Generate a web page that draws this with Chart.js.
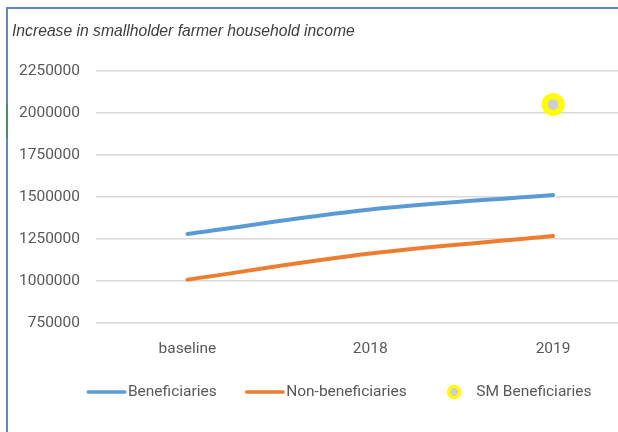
<!DOCTYPE html>
<html>
<head>
<meta charset="utf-8">
<script src="https://cdn.jsdelivr.net/npm/chart.js@4.4.1/dist/chart.umd.min.js"></script>
<style>
    html, body { margin: 0; padding: 0; overflow: hidden; background: #fff; }
    #frame-top { position: absolute; left: 6px; top: 7px; width: 640px; height: 2px; background: #5b88c8; }
    #frame-left { position: absolute; left: 6px; top: 7px; width: 2px; height: 430px; background: #5b88c8; }
    #frame-green { position: absolute; left: 6px; top: 104px; width: 2px; height: 34px; background: #3a9a5c; }
    #wrap { position: absolute; left: 0; top: 0; }
</style>
</head>
<body>
<div id="frame-top"></div>
<div id="frame-left"></div>
<div id="frame-green"></div>
<!-- canvas is a bit wider than the window: the big marker on the last category reserves room on the right -->
<div id="wrap"><canvas id="incomeChart" width="659" height="432"></canvas></div>
<script>
const categories = ['baseline', '2018', '2019'];
const beneficiaries = [1280000, 1425000, 1512000];
const nonBeneficiaries = [1008000, 1163000, 1267000];
const smBeneficiaries = [null, null, 2050000];
const yTicks = [750000, 1000000, 1250000, 1500000, 1750000, 2000000, 2250000];

const labelFont = { family: 'Roboto, "Noto Sans", sans-serif', size: 15.5 };

// little pictures for the legend entries
function lineSwatch(color) {
    const c = document.createElement('canvas');
    c.width = 60; c.height = 20;
    const g = c.getContext('2d');
    g.strokeStyle = color;
    g.lineWidth = 3.5;
    g.lineCap = 'round';
    g.beginPath();
    g.moveTo(18.5, 10);
    g.lineTo(55, 10);
    g.stroke();
    return c;
}

function dotSwatch() {
    const c = document.createElement('canvas');
    c.width = 60; c.height = 20;
    const g = c.getContext('2d');
    g.beginPath();
    g.arc(36, 10, 5.5, 0, Math.PI * 2);
    g.fillStyle = '#d0cece';
    g.fill();
    g.lineWidth = 3.5;
    g.strokeStyle = '#ffff00';
    g.stroke();
    return c;
}

const swatches = [lineSwatch('#5b9bd5'), lineSwatch('#ed7d31'), dotSwatch()];

new Chart(document.getElementById('incomeChart'), {
    type: 'line',
    data: {
        labels: categories,
        datasets: [
            {
                label: 'Beneficiaries',
                data: beneficiaries,
                borderColor: '#5b9bd5',
                borderWidth: 4,
                borderCapStyle: 'round',
                pointRadius: 0,
                tension: 0.35
            },
            {
                label: 'Non-beneficiaries',
                data: nonBeneficiaries,
                borderColor: '#ed7d31',
                borderWidth: 4,
                borderCapStyle: 'round',
                pointRadius: 0,
                tension: 0.35
            },
            {
                label: 'SM Beneficiaries',
                data: smBeneficiaries,
                showLine: false,
                pointRadius: 8.5,
                pointBorderWidth: 6,
                pointBackgroundColor: '#d0cece',
                pointBorderColor: '#ffff00'
            }
        ]
    },
    options: {
        responsive: false,
        animation: false,
        layout: { padding: { left: 12, right: 0, top: 0, bottom: 22.25 } },
        plugins: {
            tooltip: { enabled: false },
            title: {
                display: true,
                text: 'Increase in smallholder farmer household income',
                align: 'start',
                color: '#404040',
                font: { family: '"Liberation Sans", Arial, sans-serif', size: 15.7, style: 'italic', weight: 'normal' },
                padding: { top: 22, bottom: 30 }
            },
            legend: {
                position: 'bottom',
                labels: {
                    usePointStyle: true,
                    pointStyleWidth: 40.7,
                    padding: 21,
                    color: '#595959',
                    font: labelFont,
                    generateLabels(chart) {
                        const items = Chart.defaults.plugins.legend.labels.generateLabels(chart);
                        items.forEach((item, i) => { item.pointStyle = swatches[i]; });
                        return items;
                    }
                }
            }
        },
        scales: {
            x: {
                offset: true,
                grid: { display: false, drawTicks: false },
                border: { display: false },
                ticks: { color: '#595959', font: labelFont, padding: 16.5 },
                afterFit(scale) {
                    scale.height = 40.25;
                    scale.paddingLeft = 0;
                    scale.paddingRight = 0;
                }
            },
            y: {
                min: 750000,
                max: 2250000,
                afterBuildTicks(scale) { scale.ticks = yTicks.map(v => ({ value: v })); },
                grid: { color: '#d9d9d9', lineWidth: 1.5, drawTicks: false },
                border: { display: false },
                ticks: {
                    color: '#595959',
                    font: labelFont,
                    padding: 16,
                    callback: v => String(v)
                },
                afterFit(scale) { scale.width = 84; }
            }
        }
    }
});
</script>
</body>
</html>
